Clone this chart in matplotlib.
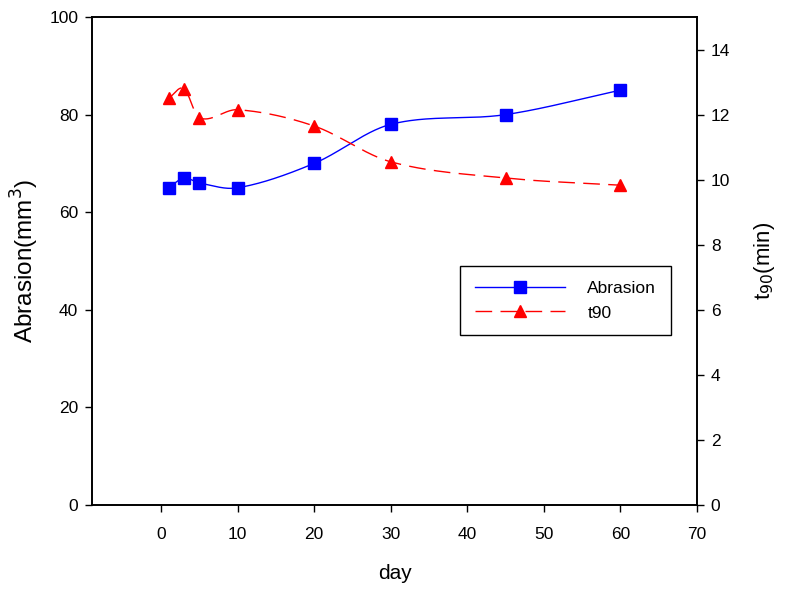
import numpy as np
import matplotlib
matplotlib.use("Agg")
import matplotlib.pyplot as plt
from matplotlib.lines import Line2D

plt.rcParams['font.family'] = ['Liberation Sans', 'DejaVu Sans']

days = [1, 3, 5, 10, 20, 30, 45, 60]
abrasion = [65, 67, 66, 65, 70, 78, 80, 85]
t90 = [12.5, 12.8, 11.9, 12.15, 11.65, 10.55, 10.05, 9.83]

x_ticks = [0, 10, 20, 30, 40, 50, 60, 70]
left_ticks = [0, 20, 40, 60, 80, 100]
right_ticks = [0, 2, 4, 6, 8, 10, 12, 14]


def smooth_curve(x, y, n=60):
    """Cubic Hermite (Catmull-Rom style) curve through the data points."""
    x = np.asarray(x, float)
    y = np.asarray(y, float)
    m = len(x)
    t = np.zeros(m)
    t[0] = (y[1] - y[0]) / (x[1] - x[0])
    t[-1] = (y[-1] - y[-2]) / (x[-1] - x[-2])
    for i in range(1, m - 1):
        t[i] = (y[i + 1] - y[i - 1]) / (x[i + 1] - x[i - 1])
    xs_all, ys_all = [], []
    for i in range(m - 1):
        h = x[i + 1] - x[i]
        s = np.linspace(0, 1, n)
        h00 = 2 * s**3 - 3 * s**2 + 1
        h10 = s**3 - 2 * s**2 + s
        h01 = -2 * s**3 + 3 * s**2
        h11 = s**3 - s**2
        ys = h00 * y[i] + h10 * h * t[i] + h01 * y[i + 1] + h11 * h * t[i + 1]
        xs_all.append(x[i] + s * h)
        ys_all.append(ys)
    return np.concatenate(xs_all), np.concatenate(ys_all)


fig = plt.figure(figsize=(7.88, 5.99), dpi=100)
ax = fig.add_axes([0.1168, 0.1569, 0.7677, 0.8147])
ax2 = ax.twinx()

blue = '#0000ff'
red = '#ff0000'
dash = (12, 6)

xs, ys = smooth_curve(days, abrasion)
ax.plot(xs, ys, color=blue, lw=1.0)
ax.plot(days, abrasion, 's', color=blue, ms=8, mec=blue)

xs2, ys2 = smooth_curve(days, t90)
ax2.plot(xs2, ys2, color=red, lw=1.0, dashes=dash)
ax2.plot(days, t90, '^', color=red, ms=9, mec=red)

ax.set_xlim(-9, 70)
ax.set_ylim(0, 100)
ax2.set_ylim(0, 15)
ax.set_xticks(x_ticks)
ax.set_yticks(left_ticks)
ax2.set_yticks(right_ticks)

for a in (ax, ax2):
    a.tick_params(direction='out', length=5, width=1, labelsize=12.5, pad=5)
    for s in a.spines.values():
        s.set_linewidth(1.2)
ax.tick_params(axis='x', pad=11)

ax.set_xlabel('day', fontsize=15, labelpad=16)
ax.set_ylabel('Abrasion(mm$^3$)', fontsize=17.5, labelpad=6)
ax2.set_ylabel('t$_{90}$(min)', fontsize=16, labelpad=16)

handles = [
    Line2D([], [], color=blue, lw=1.0, marker='s', ms=8),
    Line2D([], [], color=red, lw=1.0, dashes=dash, marker='^', ms=9),
]
leg = ax.legend(handles, ['Abrasion', 't90'], loc='upper left',
                bbox_to_anchor=(0.608, 0.49), prop={'size': 12.5}, frameon=True,
                fancybox=False, edgecolor='black', handlelength=5.2,
                handletextpad=1.3, borderpad=0.85, labelspacing=0.55,
                borderaxespad=0, markerscale=1, framealpha=1)
leg.get_frame().set_linewidth(1.0)

fig.savefig('out.png', dpi=100)
